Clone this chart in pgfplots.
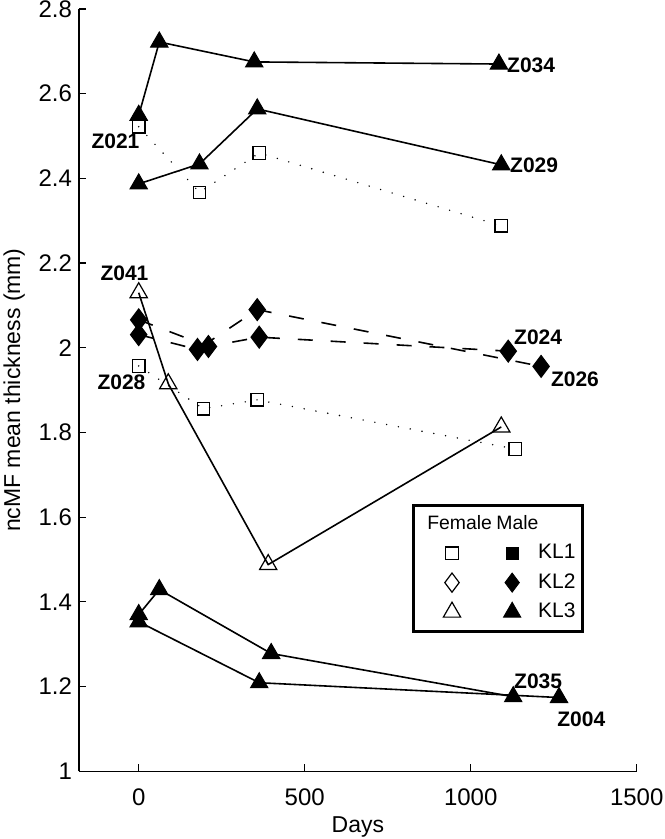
\documentclass[border=0pt]{standalone}
\usepackage{fontspec}
\setmainfont{Liberation Sans}
\usepackage{pgfplots}
\pgfplotsset{compat=1.18}

\pgfplotsset{
  kl3m/.style={black, solid, line width=0.8pt, mark=triangle*, mark size=5pt,
    mark options={solid, fill=black, line width=0.5pt}},
  kl3f/.style={black, solid, line width=0.8pt, mark=triangle, mark size=5pt,
    mark options={solid, line width=0.6pt}},
  kl2m/.style={black, line width=0.8pt, dash pattern=on 7.5pt off 9pt,
    mark=diamond*, mark size=5.5pt, mark options={solid, fill=black, line width=0.5pt}},
  kl1f/.style={black, line width=0.8pt, line cap=round, dash pattern=on 0pt off 6pt,
    mark=square, mark size=3.1pt, mark options={solid, line width=0.6pt}},
  legimg/.style={legend image code/.code={%
    \path[draw=none, fill=none] (-6pt,-5.7pt) rectangle (#1,5.7pt);
    \draw[##1] plot coordinates {(0pt,0pt)};}},
}
\tikzset{lab/.style={font=\fontsize{10.5}{12}\selectfont\bfseries, inner sep=0pt}}

\begin{document}
\begin{tikzpicture}
\begin{axis}[
  name=ax,
  scale only axis,
  width=279.05pt, height=381.35pt,
  xmin=-180, xmax=1500, ymin=1, ymax=2.8,
  axis lines=left,
  axis line style={-, line width=0.6pt},
  tick align=inside,
  major tick length=3.5pt,
  tick style={black, line width=0.6pt},
  xtick={0,500,1000,1500},
  ytick={1,1.2,1.4,1.6,1.8,2,2.2,2.4,2.6,2.8},
  /pgf/number format/assume math mode=true,
  /pgf/number format/1000 sep={},
  ticklabel style={font=\fontsize{12}{14}\selectfont},
  xticklabel style={yshift=-5pt},
  label style={font=\fontsize{11.5}{13}\selectfont},
  xlabel={Days},
  xlabel style={yshift=1pt},
  ylabel={ncMF mean thickness (mm)},
  clip=false,
  legend columns=2,
  legend style={at={(0.6466,0.3033)}, anchor=north west, draw=none, fill=none,
    inner sep=0pt, row sep=1.95pt, font=\fontsize{10.5}{12}\selectfont},
]

% female KL1 (dotted, open squares)
\addplot[kl1f, forget plot] coordinates {(0,2.522) (183,2.367) (363,2.460) (1092,2.288)}; % Z021
\addplot[kl1f, forget plot] coordinates {(0,1.957) (195,1.856) (357,1.877) (1134,1.761)}; % Z028

% female KL3 (solid, open triangles)
\addplot[kl3f, forget plot] coordinates {(0,2.130) (89,1.915) (390,1.488) (1092,1.813)}; % Z041

% male KL2 (dashed, filled diamonds)
\addplot[kl2m, forget plot] coordinates {(0,2.066) (210,2.003) (363,2.025) (1113,1.992)}; % Z024
\addplot[kl2m, forget plot] coordinates {(0,2.031) (177,1.996) (357,2.090) (1212,1.956)}; % Z026

% male KL3 (solid, filled triangles)
\addplot[kl3m, forget plot] coordinates {(0,2.549) (62,2.722) (348,2.675) (1085,2.670)}; % Z034
\addplot[kl3m, forget plot] coordinates {(0,2.387) (183,2.434) (357,2.564) (1092,2.432)}; % Z029
\addplot[kl3m, forget plot] coordinates {(0,1.370) (62,1.429) (399,1.278) (1128,1.176)}; % Z035
\addplot[kl3m, forget plot] coordinates {(0,1.353) (363,1.209) (1266,1.174)}; % Z004

% subject labels
\node[lab] at (axis cs:1182,2.666) {Z034};
\node[lab] at (axis cs:1191,2.430) {Z029};
\node[lab] at (axis cs:-70,2.488) {Z021};
\node[lab] at (axis cs:-43,2.175) {Z041};
\node[lab] at (axis cs:-52,1.918) {Z028};
\node[lab] at (axis cs:1203,2.024) {Z024};
\node[lab] at (axis cs:1314,1.925) {Z026};
\node[lab] at (axis cs:1203,1.212) {Z035};
\node[lab] at (axis cs:1333,1.122) {Z004};

% legend
\addlegendimage{legimg=20.1pt, mark=square, mark size=3.1pt, mark options={solid, line width=0.6pt}}
\addlegendentry{}
\addlegendimage{legimg=11pt, mark=square*, mark size=3.1pt, mark options={solid, fill=black}}
\addlegendentry{KL1}
\addlegendimage{legimg=20.1pt, mark=diamond, mark size=4.8pt, mark options={solid, line width=0.6pt}}
\addlegendentry{}
\addlegendimage{legimg=11pt, mark=diamond*, mark size=4.8pt, mark options={solid, fill=black}}
\addlegendentry{KL2}
\addlegendimage{legimg=20.1pt, mark=triangle, mark size=5pt, mark options={solid, line width=0.6pt}}
\addlegendentry{}
\addlegendimage{legimg=11pt, mark=triangle*, mark size=5pt, mark options={solid, fill=black}}
\addlegendentry{KL3}

\draw[line width=1.3pt] (axis cs:827.8,1.627) rectangle (axis cs:1336.5,1.330);
\node[anchor=base west, inner sep=0pt, font=\fontsize{9.7}{11}\selectfont] at (axis cs:868,1.570) {Female};
\node[anchor=base west, inner sep=0pt, font=\fontsize{9.7}{11}\selectfont] at (axis cs:1076,1.570) {Male};
\end{axis}
\pgfresetboundingbox
\path ([xshift=-39.5pt,yshift=-33.9pt]ax.south west) rectangle ([xshift=13.8pt,yshift=4.5pt]ax.north east);
\end{tikzpicture}
\end{document}
